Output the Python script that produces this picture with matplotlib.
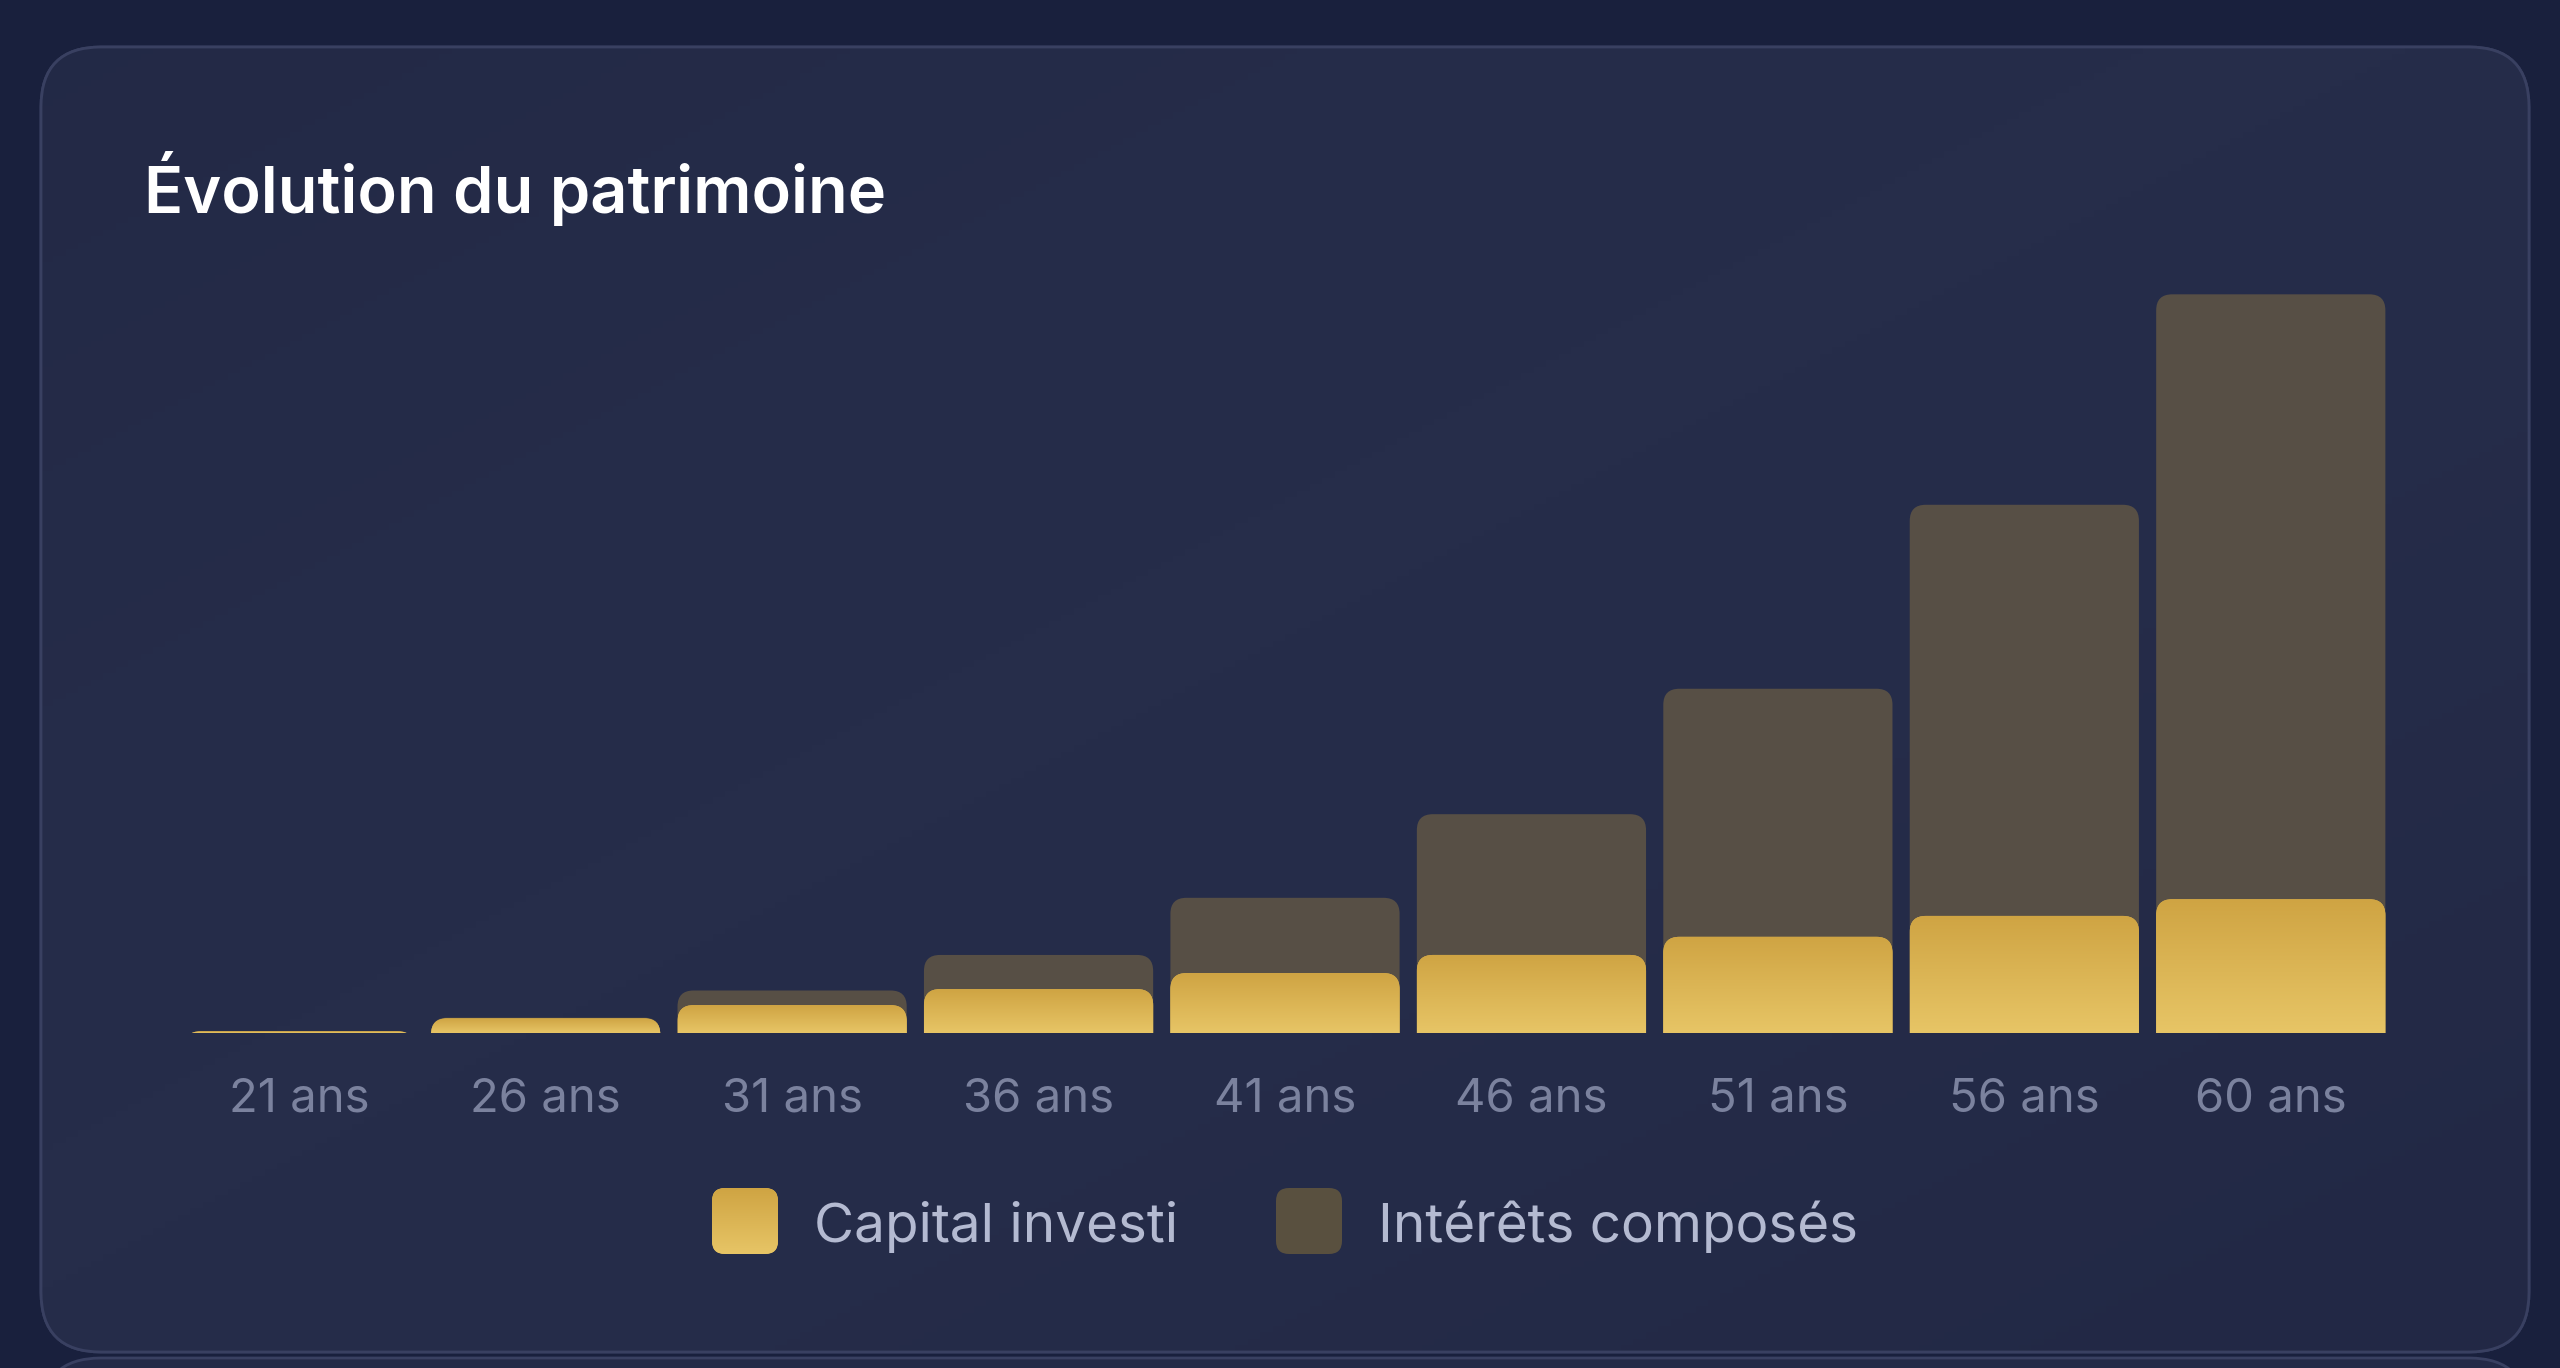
import matplotlib.pyplot as plt
import numpy as np
from matplotlib.patches import FancyBboxPatch
from matplotlib.colors import LinearSegmentedColormap

plt.rcParams['font.family'] = ['Inter', 'DejaVu Sans']

# data (k€)
ages = ["21 ans", "26 ans", "31 ans", "36 ans", "41 ans", "46 ans", "51 ans", "56 ans", "60 ans"]
capital = [1.2, 10.5, 20, 31.5, 43, 56, 69, 84, 96]
total = [1.4, 11, 30.5, 56, 97, 157, 247, 379, 530]

W, H = 2560, 1368
fig = plt.figure(figsize=(W / 100, H / 100), dpi=100)
fig.patch.set_facecolor("#19203d")

# background / card layer in pixel coords
bg = fig.add_axes([0, 0, 1, 1])
bg.set_xlim(0, W)
bg.set_ylim(H, 0)
bg.axis("off")

card = FancyBboxPatch((41, 47), 2488, 1305, boxstyle="round,pad=0,rounding_size=60",
                      fc="#242a47", ec="#394061", lw=2, zorder=1)
bg.add_patch(card)
yy, xx = np.mgrid[0:1:200j, 0:1:200j]
shade = 0.5 + 0.5 * np.cos((xx + yy - 0.9) * 2.2)
card_cmap = LinearSegmentedColormap.from_list("card", ["#222845", "#262d4a"])
img = bg.imshow(shade, extent=(41, 2529, 1352, 47), cmap=card_cmap, aspect="auto", zorder=1.5)
img.set_clip_path(card)
bg.add_patch(FancyBboxPatch((41, 47), 2488, 1305, boxstyle="round,pad=0,rounding_size=60",
                            fc="none", ec="#394061", lw=2, zorder=2))
# next card peeking at the bottom
bg.add_patch(FancyBboxPatch((41, 1358), 2488, 400, boxstyle="round,pad=0,rounding_size=60",
                            fc="#242a47", ec="#394061", lw=2, zorder=1))
bg.set_xlim(0, W)
bg.set_ylim(H, 0)

bg.text(144, 213, "Évolution du patrimoine", fontsize=46.7, fontweight="semibold",
        color="white", va="baseline", ha="left", zorder=5)

# chart
ax_left, ax_right, ax_base, ax_top = 176, 2394, 1033, 250
ax = fig.add_axes([ax_left / W, 1 - ax_base / H, (ax_right - ax_left) / W, (ax_base - ax_top) / H])
ax.set_facecolor("none")
x = np.arange(len(ages))
ymax = max(total) * 1.06
bw = 0.93

dark = ax.bar(x, total, width=bw, color="#574f45", label="Intérêts composés")
gold = ax.bar(x, capital, width=bw, color="#dbb453", label="Capital investi")

xpp = 9 / (ax_right - ax_left)
ypp = ymax / (ax_base - ax_top)
asp = ypp / xpp
r_px = 16
rx = r_px * xpp
ry = rx * asp

gold_cmap = LinearSegmentedColormap.from_list("gold", ["#e7c566", "#cfa443"])
grad = np.linspace(0, 1, 256).reshape(-1, 1)

for rect in dark:
    rect.set_visible(False)
    x0, w, h = rect.get_x(), rect.get_width(), rect.get_height()
    p = FancyBboxPatch((x0, -ry), w, h + ry, boxstyle=f"round,pad=0,rounding_size={rx}",
                       mutation_aspect=asp, fc="#574f45", ec="none", zorder=2)
    ax.add_patch(p)

for rect in gold:
    rect.set_visible(False)
    x0, w, h = rect.get_x(), rect.get_width(), rect.get_height()
    p = FancyBboxPatch((x0, -ry), w, h + ry, boxstyle=f"round,pad=0,rounding_size={rx}",
                       mutation_aspect=asp, fc="#dbb453", ec="none", zorder=3)
    ax.add_patch(p)
    im = ax.imshow(grad, extent=(x0, x0 + w, 0, h), origin="lower", cmap=gold_cmap,
                   aspect="auto", zorder=4)
    im.set_clip_path(p)

ax.set_xlim(-0.5, 8.5)
ax.set_ylim(0, ymax)
ax.set_xticks(x, ages)
ax.set_yticks([])
ax.tick_params(axis="x", length=0, pad=32, labelsize=34, labelcolor="#7b829e")
for s in ax.spines.values():
    s.set_visible(False)

# legend
legend_items = [("Capital investi", None, 712, 814), ("Intérêts composés", "#59503f", 1276, 1378)]
for label, col, sx, tx in legend_items:
    sw = FancyBboxPatch((sx, 1188), 66, 66, boxstyle="round,pad=0,rounding_size=13",
                        fc=col if col else "#dbb453", ec="none", zorder=5)
    bg.add_patch(sw)
    if col is None:
        li = bg.imshow(grad, extent=(sx, sx + 66, 1254, 1188), origin="lower", cmap=gold_cmap,
                       aspect="auto", zorder=6)
        li.set_clip_path(sw)
    bg.text(tx, 1242, label, fontsize=39.5, color="#b4bad1", va="baseline", ha="left", zorder=6)
bg.set_xlim(0, W)
bg.set_ylim(H, 0)

fig.savefig("out.png", dpi=100, facecolor=fig.get_facecolor())
